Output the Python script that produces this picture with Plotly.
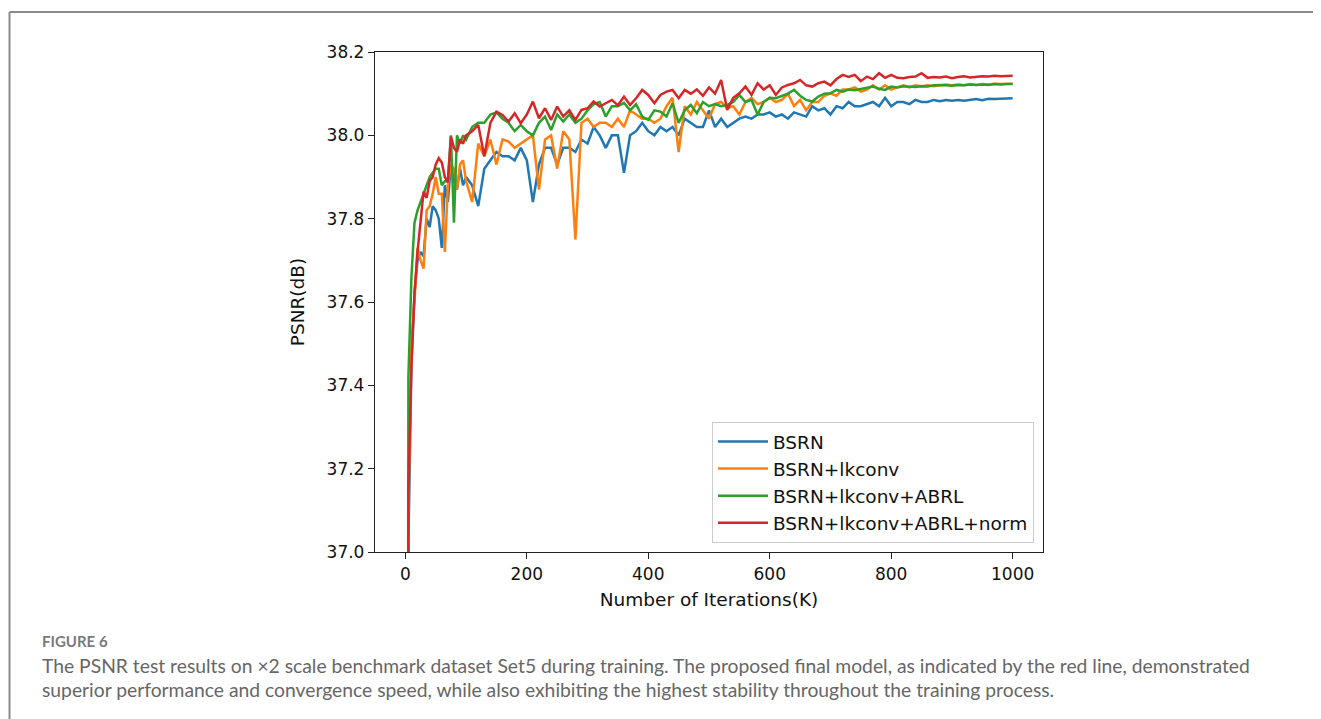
import plotly.graph_objects as go

# iterations (K): every 5K up to 100K, then every 10K
ITERS = list(range(0, 101, 5)) + list(range(110, 1001, 10))

SERIES_NAMES = ["BSRN", "BSRN+lkconv", "BSRN+lkconv+ABRL", "BSRN+lkconv+ABRL+norm"]
COLORS = ["#1f77b4", "#ff7f0e", "#2ca02c", "#d62728"]

bsrn = [
    33.0, 37.02, 37.45, 37.62, 37.70, 37.72, 37.71, 37.80, 37.78, 37.83, 37.82,
    37.80, 37.73, 37.88, 37.84, 37.93, 37.89, 37.87, 37.92, 37.88, 37.90,
    # 110 - 200
    37.88, 37.83, 37.92, 37.94, 37.96, 37.95, 37.95, 37.94, 37.97, 37.94,
    # 210 - 300
    37.84, 37.93, 37.97, 37.97, 37.93, 37.97, 37.97, 37.96, 37.99, 37.98,
    # 310 - 400
    38.02, 38.00, 37.97, 38.00, 38.00, 37.91, 38.00, 38.01, 38.03, 38.01,
    # 410 - 500
    38.00, 38.02, 38.01, 38.02, 38.00, 38.04, 38.03, 38.02, 38.02, 38.06,
    # 510 - 600
    38.02, 38.04, 38.02, 38.03, 38.04, 38.045, 38.04, 38.05, 38.05, 38.055,
    # 610 - 700
    38.045, 38.05, 38.04, 38.055, 38.05, 38.045, 38.07, 38.06, 38.065, 38.05,
    # 710 - 800
    38.07, 38.065, 38.08, 38.07, 38.07, 38.075, 38.08, 38.07, 38.09, 38.07,
    # 810 - 900
    38.08, 38.08, 38.075, 38.085, 38.08, 38.08, 38.085, 38.082, 38.085, 38.083,
    # 910 - 1000
    38.085, 38.083, 38.085, 38.087, 38.084, 38.088, 38.087, 38.088, 38.089, 38.089,
]

bsrn_lk = [
    33.0, 37.10, 37.50, 37.60, 37.73, 37.70, 37.68, 37.82, 37.83, 37.86, 37.90,
    37.86, 37.86, 37.72, 37.88, 37.93, 37.92, 37.87, 37.93, 37.94, 37.89,
    # 110 - 200
    37.84, 37.98, 37.95, 37.99, 37.93, 37.99, 37.985, 37.97, 37.98, 37.99,
    # 210 - 300
    38.00, 37.87, 37.99, 38.00, 37.92, 38.01, 37.99, 37.75, 38.03, 38.04,
    # 310 - 400
    38.02, 38.03, 38.03, 38.02, 38.04, 38.02, 38.06, 38.05, 38.04, 38.04,
    # 410 - 500
    38.03, 38.04, 38.07, 38.09, 37.96, 38.07, 38.05, 38.08, 38.06, 38.04,
    # 510 - 600
    38.075, 38.08, 38.065, 38.07, 38.05, 38.08, 38.09, 38.075, 38.08, 38.09,
    # 610 - 700
    38.08, 38.085, 38.10, 38.07, 38.085, 38.06, 38.08, 38.08, 38.095, 38.10,
    # 710 - 800
    38.095, 38.11, 38.11, 38.115, 38.105, 38.11, 38.12, 38.11, 38.12, 38.11,
    # 810 - 900
    38.115, 38.12, 38.115, 38.12, 38.118, 38.12, 38.118, 38.12, 38.122, 38.12,
    # 910 - 1000
    38.122, 38.12, 38.123, 38.121, 38.123, 38.122, 38.124, 38.123, 38.124, 38.124,
]

bsrn_lk_abrl = [
    30.0, 37.42, 37.66, 37.79, 37.82, 37.84, 37.86, 37.885, 37.90, 37.91, 37.92,
    37.92, 37.88, 37.89, 37.89, 38.00, 37.79, 38.00, 37.98, 38.00, 37.99,
    # 110 - 200
    38.02, 38.03, 38.03, 38.05, 38.055, 38.04, 38.03, 38.01, 38.025, 38.01,
    # 210 - 300
    38.00, 38.03, 38.045, 38.013, 38.05, 38.033, 38.05, 38.03, 38.04, 38.06,
    # 310 - 400
    38.075, 38.08, 38.045, 38.07, 38.07, 38.078, 38.06, 38.075, 38.045, 38.037,
    # 410 - 500
    38.06, 38.057, 38.045, 38.077, 38.03, 38.06, 38.073, 38.053, 38.08, 38.07,
    # 510 - 600
    38.075, 38.07, 38.073, 38.08, 38.097, 38.08, 38.085, 38.05, 38.08, 38.09,
    # 610 - 700
    38.089, 38.095, 38.10, 38.109, 38.095, 38.085, 38.081, 38.093, 38.10, 38.101,
    # 710 - 800
    38.109, 38.105, 38.11, 38.108, 38.111, 38.113, 38.117, 38.112, 38.109, 38.117,
    # 810 - 900
    38.115, 38.118, 38.117, 38.116, 38.118, 38.117, 38.12, 38.121, 38.12, 38.119,
    # 910 - 1000
    38.121, 38.12, 38.122, 38.121, 38.122, 38.121, 38.123, 38.122, 38.123, 38.123,
]

bsrn_lk_abrl_norm = [
    33.0, 37.15, 37.45, 37.62, 37.72, 37.80, 37.865, 37.85, 37.89, 37.90, 37.93,
    37.945, 37.935, 37.90, 37.887, 37.997, 37.97, 37.96, 37.99, 37.98, 38.00,
    # 110 - 200
    38.01, 38.025, 37.95, 38.03, 38.057, 38.049, 38.033, 38.053, 38.029, 38.05,
    # 210 - 300
    38.081, 38.041, 38.065, 38.037, 38.069, 38.045, 38.06, 38.037, 38.061, 38.065,
    # 310 - 400
    38.081, 38.069, 38.077, 38.085, 38.072, 38.093, 38.073, 38.089, 38.109, 38.097,
    # 410 - 500
    38.077, 38.097, 38.105, 38.109, 38.089, 38.109, 38.10, 38.11, 38.095, 38.115,
    # 510 - 600
    38.10, 38.133, 38.061, 38.09, 38.101, 38.117, 38.097, 38.125, 38.11, 38.12,
    # 610 - 700
    38.097, 38.115, 38.121, 38.125, 38.133, 38.12, 38.117, 38.125, 38.129, 38.12,
    # 710 - 800
    38.135, 38.145, 38.14, 38.145, 38.13, 38.141, 38.135, 38.149, 38.138, 38.145,
    # 810 - 900
    38.138, 38.137, 38.14, 38.141, 38.149, 38.138, 38.14, 38.139, 38.141, 38.137,
    # 910 - 1000
    38.14, 38.142, 38.139, 38.141, 38.142, 38.141, 38.143, 38.142, 38.143, 38.143,
]

X_TICKS = [0, 200, 400, 600, 800, 1000]
Y_TICKS = [37.0, 37.2, 37.4, 37.6, 37.8, 38.0, 38.2]

CAPTION_LABEL = "FIGURE 6"
CAPTION_LINES = [
    "The PSNR test results on \u00d72 scale benchmark dataset Set5 during training. "
    "The proposed final model, as indicated by the red line, demonstrated",
    "superior performance and convergence speed, while also exhibiting the highest "
    "stability throughout the training process.",
]

# page body has an 8px margin, so the figure is drawn 8px in from the window
OFFSET = 8
W, H = 1321 - OFFSET, 719 - OFFSET
# plot area in window pixels
L, R, T, B = 375, 1043, 52, 552


def px_to_paper(px, py):
    return (px - L) / (R - L), (B - py) / (B - T)


fig = go.Figure()
for name, color, ys in zip(SERIES_NAMES, COLORS,
                           [bsrn, bsrn_lk, bsrn_lk_abrl, bsrn_lk_abrl_norm]):
    assert len(ys) == len(ITERS), name
    fig.add_trace(go.Scatter(
        x=ITERS, y=ys, mode="lines", name=name,
        line=dict(color=color, width=2.5),
    ))

axis_common = dict(
    showline=True, mirror=True, linecolor="#222", linewidth=1.3,
    ticks="outside", ticklen=6, tickwidth=1.3, tickcolor="#222",
    showgrid=False, zeroline=False,
    tickfont=dict(family="DejaVu Sans", size=17, color="#111"),
)
title_font = dict(family="DejaVu Sans", size=18.5, color="#111")

fig.update_xaxes(
    range=[-50, 1050], tickvals=X_TICKS,
    title=dict(text="Number of Iterations(K)", standoff=10, font=title_font),
    **axis_common,
)
fig.update_yaxes(
    range=[37.0, 38.2], tickvals=Y_TICKS, tickformat=".1f",
    title=dict(text="PSNR(dB)", standoff=17, font=title_font),
    **axis_common,
)

lx, ly = px_to_paper(1034, 543)
fig.update_layout(
    width=W, height=H,
    margin=dict(l=L - OFFSET, r=W - (R - OFFSET), t=T - OFFSET, b=H - (B - OFFSET)),
    paper_bgcolor="white", plot_bgcolor="white",
    showlegend=True,
    legend=dict(
        x=lx, y=ly, xanchor="right", yanchor="bottom",
        bgcolor="rgba(255,255,255,0.9)", bordercolor="#cccccc", borderwidth=1,
        font=dict(family="DejaVu Sans", size=18.5, color="#111"),
        itemwidth=50,
    ),
)

# page frame around the figure (left edge kept just inside the drawable area)
fx0, fy0 = px_to_paper(9.5, 12)
fx1, fy1 = px_to_paper(1340, 740)
fig.add_shape(type="line", xref="paper", yref="paper",
              x0=fx0, y0=fy0, x1=fx1, y1=fy0,
              line=dict(color="#8a8a8a", width=2))
fig.add_shape(type="line", xref="paper", yref="paper",
              x0=fx0, y0=fy0, x1=fx0, y1=fy1,
              line=dict(color="#8a8a8a", width=2))

# caption
cx, cy = px_to_paper(40, 641)
fig.add_annotation(
    text="<b>" + CAPTION_LABEL + "</b>", xref="paper", yref="paper",
    x=cx, y=cy, xanchor="left", yanchor="middle", showarrow=False,
    font=dict(family="Lato", size=15, color="#7a7a7a"),
)
for i, line in enumerate(CAPTION_LINES):
    cx, cy = px_to_paper(40, 665 + 24 * i)
    fig.add_annotation(
        text=line, xref="paper", yref="paper",
        x=cx, y=cy, xanchor="left", yanchor="middle", showarrow=False,
        font=dict(family="Lato", size=19.3, color="#666666"),
    )

fig.write_html("out.html")
